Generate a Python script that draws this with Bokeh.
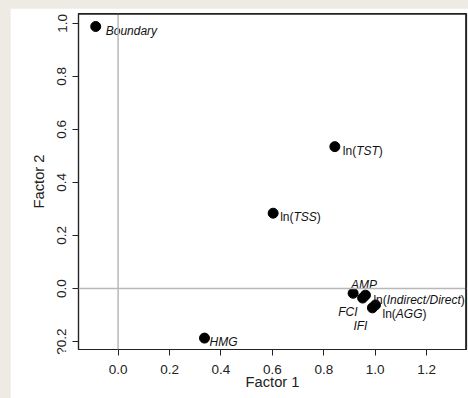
from bokeh.plotting import figure
from bokeh.models import Range1d, FixedTicker, Span, ColumnDataSource
from bokeh.core.properties import value
from bokeh.embed import file_html
from bokeh.resources import INLINE

# ---- data ----
names = ["Boundary", "ln(TST)", "ln(TSS)", "HMG", "AMP",
         "ln(Indirect/Direct)", "FCI", "ln(AGG)", "IFI"]
factor1 = [-0.087, 0.843, 0.603, 0.336, 0.914, 0.962, 0.951, 1.001, 0.989]
factor2 = [0.988, 0.535, 0.284, -0.187, -0.018, -0.025, -0.036, -0.062, -0.073]

x_ticks = [0.0, 0.2, 0.4, 0.6, 0.8, 1.0, 1.2]
x_tick_labels = ["0.0", "0.2", "0.4", "0.6", "0.8", "1.0", "1.2"]
y_ticks = [-0.2, 0.0, 0.2, 0.4, 0.6, 0.8, 1.0]
y_tick_labels = ["?0.2", "0.0", "0.2", "0.4", "0.6", "0.8", "1.0"]

# label placement relative to each point (screen px): dx, dy (baseline), align
label_dx = [10, 8, 7, 5, 11, 8, -5, 7, -12]
label_dy = [5, 4, 4, 3.5, -8.5, 5, 14, 9.5, 18.5]
label_align = ["left", "left", "left", "left", "center", "left", "right", "left", "center"]

FONT = "Liberation Sans"
FS = 12
INK = "#222222"

# Arial / Liberation Sans advance widths (em)
W = {'l': .222, 'n': .556, '(': .333, ')': .333, 'T': .611, 'S': .667, 'I': .278,
     'd': .556, 'i': .222, 'r': .333, 'e': .556, 'c': .5, 't': .278, '/': .278,
     'D': .722, 'A': .667, 'G': .778, 'B': .667, 'o': .556, 'u': .556, 'a': .556,
     'y': .5, 'H': .722, 'M': .833, 'P': .667, 'F': .611, 'C': .722}


def width(s):
    return sum(W.get(ch, .556) for ch in s) * FS


def segments(name):
    if name.startswith("ln(") and name.endswith(")"):
        return [("ln(", "normal"), (name[3:-1], "italic"), (")", "normal")]
    return [(name, "italic")]


seg = {"normal": dict(x=[], y=[], text=[], xo=[], yo=[]),
       "italic": dict(x=[], y=[], text=[], xo=[], yo=[])}
for nm, fx, fy, dx, dy, al in zip(names, factor1, factor2, label_dx, label_dy, label_align):
    parts = segments(nm)
    total = sum(width(t) for t, _ in parts)
    start = dx if al == "left" else (dx - total if al == "right" else dx - total / 2)
    cum = 0.0
    for t, st in parts:
        d = seg[st]
        d["x"].append(fx)
        d["y"].append(fy)
        d["text"].append(t)
        d["xo"].append(start + cum)
        d["yo"].append(dy)
        cum += width(t)

W_FIG, H_FIG = 458, 390
B_LEFT, B_RIGHT, B_TOP, B_BOTTOM = 68, 2, 5, 49
xr = Range1d(-0.154, 1.355)
yr = Range1d(-0.230, 1.037)
p = figure(width=W_FIG, height=H_FIG, output_backend="svg", toolbar_location=None,
           x_range=xr, y_range=yr,
           min_border_left=B_LEFT, min_border_right=B_RIGHT,
           min_border_top=B_TOP, min_border_bottom=B_BOTTOM,
           background_fill_color="white", border_fill_color="white")
p.margin = (8, 0, 0, 10)
p.xgrid.visible = False
p.ygrid.visible = False
p.outline_line_color = INK
p.outline_line_width = 1.2

x_axis = p.below[0]
y_axis = p.left[0]

p.add_layout(Span(location=0, dimension="height", line_color="#b8b8b8", line_width=1.5))
p.add_layout(Span(location=0, dimension="width", line_color="#b8b8b8", line_width=1.5))

# top and right edges of the box as spans just inside the frame
px_x = (xr.end - xr.start) / (W_FIG - B_LEFT - B_RIGHT)
px_y = (yr.end - yr.start) / (H_FIG - B_TOP - B_BOTTOM)
p.add_layout(Span(location=yr.end - 0.7 * px_y, dimension="width",
                  line_color=INK, line_width=1.3))
p.add_layout(Span(location=xr.end - 0.7 * px_x, dimension="height",
                  line_color=INK, line_width=1.3))

src = ColumnDataSource(dict(x=factor1, y=factor2))
p.scatter("x", "y", source=src, size=10, fill_color="black", line_color="black")

for st, d in seg.items():
    s = ColumnDataSource(d)
    p.text("x", "y", text="text", source=s, x_offset="xo", y_offset="yo",
           text_font=value(FONT), text_font_size=f"{FS}px", text_font_style=st,
           text_align="left", text_baseline="alphabetic", text_color="#111111")

for ax, ticks, labels, title in ((x_axis, x_ticks, x_tick_labels, "Factor 1"),
                                 (y_axis, y_ticks, y_tick_labels, "Factor 2")):
    ax.ticker = FixedTicker(ticks=ticks)
    ax.major_label_overrides = {t: l for t, l in zip(ticks, labels)}
    ax.axis_line_color = INK
    ax.axis_line_width = 1.2
    ax.major_tick_out = 6
    ax.major_tick_in = 0
    ax.major_tick_line_color = INK
    ax.minor_tick_line_color = None
    ax.major_label_text_font = FONT
    ax.major_label_text_font_size = "13.5px"
    ax.major_label_text_color = INK
    ax.axis_label = title
    ax.axis_label_text_font = FONT
    ax.axis_label_text_font_size = "14.7px"
    ax.axis_label_text_font_style = "normal"
    ax.axis_label_text_color = INK

y_axis.major_label_orientation = "vertical"
y_axis.major_label_standoff = 3
y_axis.axis_label_standoff = 5
x_axis.major_label_standoff = 9
x_axis.axis_label_standoff = -3

html = file_html(p, INLINE)
html = html.replace("</head>",
                    "<style>html, body { background-color: #eeebe4 !important; }</style></head>", 1)
open("out.html", "w").write(html)
